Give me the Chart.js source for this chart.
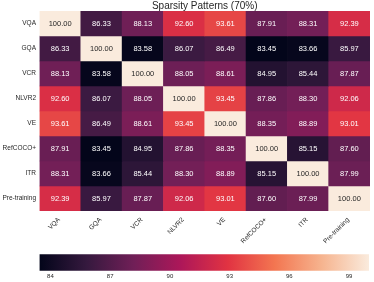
<!DOCTYPE html>
<html><head><meta charset="utf-8">
<script src="https://cdn.jsdelivr.net/npm/chart.js@4"></script>
<style>
html,body{margin:0;padding:0;background:#fff;width:374px;height:282px;overflow:hidden}
#wrap1{position:absolute;left:0;top:0;width:374px;height:248px}
#wrap2{position:absolute;left:0;top:248px;width:374px;height:34px}
</style></head><body>
<div id="wrap1"><canvas id="heat"></canvas></div>
<div id="wrap2"><canvas id="cbar"></canvas></div>
<script>
const titleText = 'Sparsity Patterns (70%)';
const tasks = ['VQA','GQA','VCR','NLVR2','VE','RefCOCO+','ITR','Pre-training'];
const rowVQA      = [100.00, 86.33, 88.13, 92.60, 93.61, 87.91, 88.31, 92.39];
const rowGQA      = [86.33, 100.00, 83.58, 86.07, 86.49, 83.45, 83.66, 85.97];
const rowVCR      = [88.13, 83.58, 100.00, 88.05, 88.61, 84.95, 85.44, 87.87];
const rowNLVR2    = [92.60, 86.07, 88.05, 100.00, 93.45, 87.86, 88.30, 92.06];
const rowVE       = [93.61, 86.49, 88.61, 93.45, 100.00, 88.35, 88.89, 93.01];
const rowRefCOCO  = [87.91, 83.45, 84.95, 87.86, 88.35, 100.00, 85.15, 87.60];
const rowITR      = [88.31, 83.66, 85.44, 88.30, 88.89, 85.15, 100.00, 87.99];
const rowPretrain = [92.39, 85.97, 87.87, 92.06, 93.01, 87.60, 87.99, 100.00];
const colorTicks  = [84, 87, 90, 93, 96, 99];

const matrix = [rowVQA,rowGQA,rowVCR,rowNLVR2,rowVE,rowRefCOCO,rowITR,rowPretrain];
const allVals = matrix.flat();
const vmin = Math.min(...allVals), vmax = Math.max(...allVals);

const FONT = '"Liberation Sans", Arial, Helvetica, sans-serif';
// seaborn "rocket" colormap stops
const rocketStops = [
  [0, [3,5,26]],
  [1/7, [53,25,62]],
  [2/7, [112,31,87]],
  [3/7, [173,23,89]],
  [4/7, [225,51,66]],
  [5/7, [243,118,81]],
  [6/7, [246,180,143]],
  [1, [250,235,221]]
];
function rocketRGB(t){
  t = Math.max(0, Math.min(1, t));
  for (let i=1;i<rocketStops.length;i++){
    const [t1,c1]=rocketStops[i], [t0,c0]=rocketStops[i-1];
    if (t<=t1){ const f=(t-t0)/(t1-t0); return c0.map((v,k)=>Math.round(v+(c1[k]-v)*f)); }
  }
  return rocketStops[rocketStops.length-1][1];
}
const norm = v => (v - vmin) / (vmax - vmin);
const rgbStr = c => `rgb(${c[0]},${c[1]},${c[2]})`;
function textColor(v){
  const c = rocketRGB(norm(v)).map(x=>{x/=255;return x<=0.03928?x/12.92:Math.pow((x+0.055)/1.055,2.4);});
  const lum = 0.2126*c[0]+0.7152*c[1]+0.0722*c[2];
  return lum < 0.408 ? '#ffffff' : '#262626';
}

const cellText = {
  id:'cellText',
  afterDatasetsDraw(chart){
    const c = chart.ctx; c.save();
    c.font = '7.5px ' + FONT; c.textAlign='center'; c.textBaseline='middle';
    chart.data.datasets.forEach((ds,di)=>{
      chart.getDatasetMeta(di).data.forEach((el,j)=>{
        const v = ds.values[j];
        const p = el.getProps(['x','y','base'], true);
        c.fillStyle = textColor(v);
        c.fillText(v.toFixed(2), p.x, (p.y+p.base)/2 + 0.5);
      });
    });
    c.restore();
  }
};
const titlePlugin = {
  id:'titleDraw',
  afterDraw(chart){
    const a = chart.chartArea, c = chart.ctx; c.save();
    c.font = '10px ' + FONT; c.fillStyle='#262626'; c.textAlign='center'; c.textBaseline='middle';
    c.fillText(titleText, (a.left+a.right)/2, 6);
    c.restore();
  }
};

new Chart(document.getElementById('heat'), {
  type:'bar',
  data:{
    labels: tasks,
    datasets: matrix.map((row,r)=>({
      label: tasks[r],
      values: row,
      data: row.map(()=>[r, r+1]),
      backgroundColor: row.map(v=>rgbStr(rocketRGB(norm(v)))),
      borderWidth: 0,
      borderSkipped: false,
      barPercentage: 1,
      categoryPercentage: 1,
      grouped: false
    }))
  },
  options:{
    animation:false, responsive:true, maintainAspectRatio:false,
    layout:{padding:{top:11,right:4,left:0,bottom:0}},
    plugins:{legend:{display:false},tooltip:{enabled:false},title:{display:false}},
    scales:{
      x:{
        type:'category',
        grid:{display:false, drawTicks:false}, border:{display:false},
        ticks:{maxRotation:45,minRotation:45,autoSkip:false,font:{family:FONT,size:6.5},color:'#262626',padding:5,labelOffset:-1},
        afterFit(s){ s.height = 37; }
      },
      y:{
        type:'linear', min:0, max:8, reverse:true,
        grid:{display:false, drawTicks:false}, border:{display:false},
        afterBuildTicks(s){ s.ticks = tasks.map((_,i)=>({value:i+0.5})); },
        ticks:{autoSkip:false, callback:(v,i)=>tasks[i], font:{family:FONT,size:6.5}, color:'#262626', padding:3.5},
        afterFit(s){ s.width = 39.5; }
      }
    }
  },
  plugins:[cellText, titlePlugin]
});

new Chart(document.getElementById('cbar'), {
  type:'bar',
  data:{
    labels:['scale'],
    datasets:[{
      data:[[vmin, vmax]],
      backgroundColor(ctx){
        const ch = ctx.chart; if(!ch.chartArea) return 'rgba(0,0,0,0)';
        const xs = ch.scales.x;
        const g = ch.ctx.createLinearGradient(xs.getPixelForValue(vmin),0,xs.getPixelForValue(vmax),0);
        rocketStops.forEach(([t,c])=>g.addColorStop(t, rgbStr(c)));
        return g;
      },
      borderWidth:0, barPercentage:1, categoryPercentage:1
    }]
  },
  options:{
    indexAxis:'y', animation:false, responsive:true, maintainAspectRatio:false,
    layout:{padding:{top:6.3,right:5,left:39.5,bottom:0}},
    plugins:{legend:{display:false},tooltip:{enabled:false}},
    scales:{
      x:{
        type:'linear', min:vmin, max:vmax,
        grid:{display:false, drawTicks:false}, border:{display:false},
        afterBuildTicks(s){ s.ticks = colorTicks.map(v=>({value:v})); },
        ticks:{font:{family:FONT,size:6},color:'#262626',padding:2.5, maxRotation:0, autoSkip:false},
        afterFit(s){ s.height = 11.3; }
      },
      y:{display:false}
    }
  }
});
</script>
</body></html>
